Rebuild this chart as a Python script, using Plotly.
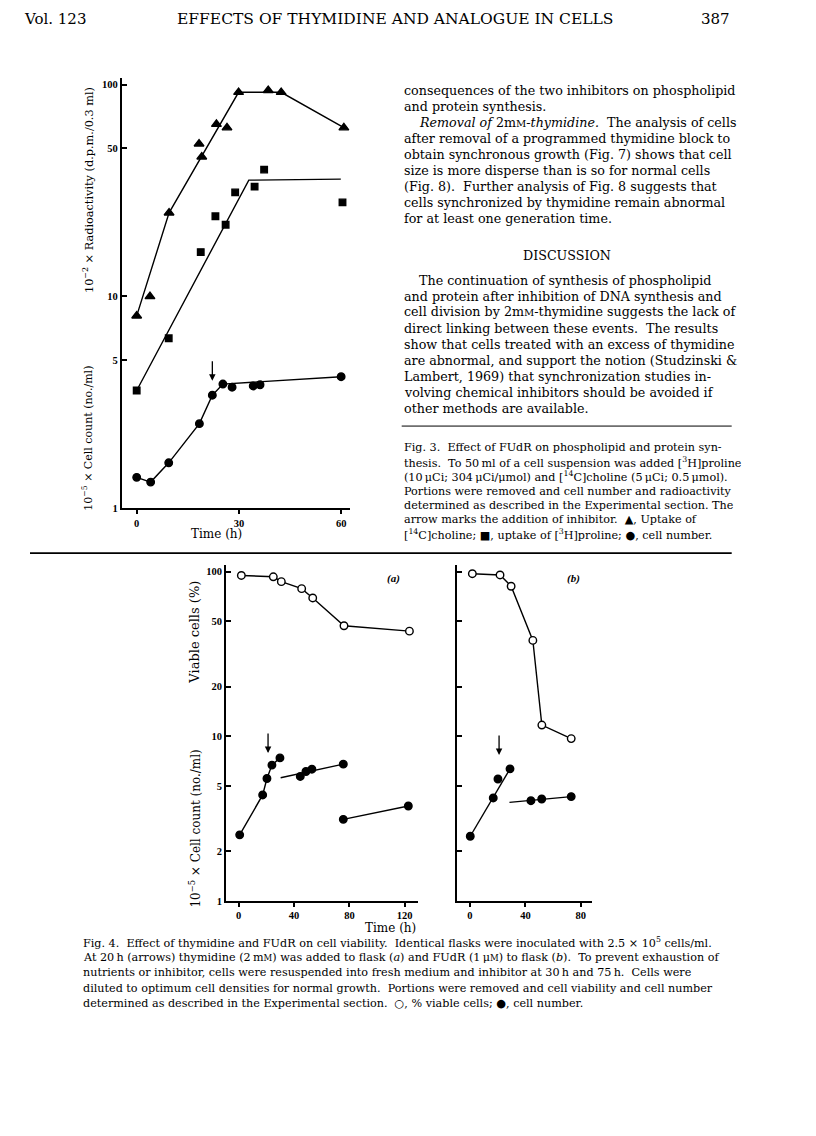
import math
import plotly.graph_objects as go

# page size and the 8px body margin of the html page
PAGE_W, PAGE_H = 816, 1136
OFF = 8
W, H = PAGE_W - OFF, PAGE_H - OFF

# ---------------- Fig. 3 data ----------------
fig3_choline_time = [0, 3.9, 9.5, 18.3, 19.1, 23.4, 26.5, 29.9, 38.6, 42.4, 60.8]
fig3_choline = [8.1, 10.0, 24.8, 52.5, 45.6, 65, 62.6, 92, 94, 92, 62.6]
fig3_choline_fit_time = [0, 9.5, 29.9, 42.4, 60.8]
fig3_choline_fit = [8.1, 24.8, 92, 92, 62.6]

fig3_proline_time = [0, 9.4, 18.8, 23.1, 26.1, 28.9, 34.6, 37.4, 60.4]
fig3_proline = [3.6, 6.35, 16.2, 23.9, 21.8, 31, 33, 39.7, 27.8]
fig3_proline_fit_time = [0, 32.9, 59.9]
fig3_proline_fit = [3.6, 35.4, 35.8]

fig3_cells_time = [0, 4.1, 9.4, 18.4, 22.2, 25.3, 28, 34.2, 36.2, 60]
fig3_cells = [1.40, 1.33, 1.64, 2.51, 3.42, 3.86, 3.73, 3.78, 3.83, 4.18]
fig3_cells_fit_time = [0, 4.1, 9.4, 18.4, 22.2, 25.3, 60]
fig3_cells_fit = [1.40, 1.33, 1.64, 2.51, 3.42, 3.86, 4.18]
fig3_arrow = (22.2, 4.0)
fig3_xticks = [0, 30, 60]
fig3_yticks = [1, 5, 10, 50, 100]

# ---------------- Fig. 4 data ----------------
fig4a_viable_time = [1.9, 25, 30.8, 45.5, 53.5, 76.1, 123.4]
fig4a_viable = [94.8, 93, 86.9, 78.8, 69.2, 46.9, 43.5]
fig4a_cells_time = [0.7, 17.3, 20.4, 24, 29.8, 44.5, 48.6, 52.9, 75.6, 75.6, 122.6]
fig4a_cells = [2.52, 4.4, 5.54, 6.68, 7.39, 5.70, 6.11, 6.31, 6.77, 3.13, 3.77]
fig4a_seg1_time = [0.7, 17.3, 20.4, 24, 29.8]
fig4a_seg1 = [2.52, 4.4, 5.54, 6.68, 7.39]
fig4a_seg2_time = [30.3, 75.6]
fig4a_seg2 = [5.6, 6.77]
fig4a_seg3_time = [75.6, 122.6]
fig4a_seg3 = [3.13, 3.77]
fig4a_arrow = (21.2, 7.9)

fig4b_viable_time = [1.7, 21.7, 29.7, 45.4, 51.9, 73.1]
fig4b_viable = [97.1, 95.4, 81.5, 38.2, 11.7, 9.68]
fig4b_cells_time = [0.2, 16.8, 20.2, 28.9, 44, 51.8, 73.1]
fig4b_cells = [2.47, 4.22, 5.50, 6.34, 4.06, 4.16, 4.30]
fig4b_seg1_time = [0.2, 16.8, 28.9]
fig4b_seg1 = [2.47, 4.22, 6.34]
fig4b_seg2_time = [28.5, 73.1]
fig4b_seg2 = [3.97, 4.30]
fig4b_arrow = (21.0, 7.7)

fig4a_xticks = [0, 40, 80, 120]
fig4b_xticks = [0, 40, 80]
fig4_yticks = [1, 2, 5, 10, 20, 50, 100]


def PX(x):
    return (x - OFF) / W


def PY(y):
    return 1 - (y - OFF) / H


fig = go.Figure()


def add_line(xa, ya, t, v):
    fig.add_trace(go.Scatter(x=t, y=v, xaxis=xa, yaxis=ya, mode="lines",
                             line=dict(color="black", width=1.4),
                             showlegend=False, hoverinfo="skip"))


def add_marks(xa, ya, t, v, symbol, fill, size):
    fig.add_trace(go.Scatter(x=t, y=v, xaxis=xa, yaxis=ya, mode="markers",
                             marker=dict(symbol=symbol, size=size, color=fill,
                                         line=dict(color="black", width=1.4)),
                             showlegend=False, hoverinfo="skip"))


# Fig 3
add_line("x", "y", fig3_choline_fit_time, fig3_choline_fit)
add_line("x", "y", fig3_proline_fit_time, fig3_proline_fit)
add_line("x", "y", fig3_cells_fit_time, fig3_cells_fit)
add_marks("x", "y", fig3_choline_time, fig3_choline, "triangle-up", "black", 8.5)
add_marks("x", "y", fig3_proline_time, fig3_proline, "square", "black", 6.5)
add_marks("x", "y", fig3_cells_time, fig3_cells, "circle", "black", 7.5)

# Fig 4a
add_line("x2", "y2", fig4a_viable_time, fig4a_viable)
add_line("x2", "y2", fig4a_seg1_time, fig4a_seg1)
add_line("x2", "y2", fig4a_seg2_time, fig4a_seg2)
add_line("x2", "y2", fig4a_seg3_time, fig4a_seg3)
add_marks("x2", "y2", fig4a_viable_time, fig4a_viable, "circle", "white", 7.5)
add_marks("x2", "y2", fig4a_cells_time, fig4a_cells, "circle", "black", 7.5)

# Fig 4b
add_line("x3", "y3", fig4b_viable_time, fig4b_viable)
add_line("x3", "y3", fig4b_seg1_time, fig4b_seg1)
add_line("x3", "y3", fig4b_seg2_time, fig4b_seg2)
add_marks("x3", "y3", fig4b_viable_time, fig4b_viable, "circle", "white", 7.5)
add_marks("x3", "y3", fig4b_cells_time, fig4b_cells, "circle", "black", 7.5)

TICKFONT = dict(family="Liberation Serif", size=10.5, color="black", weight="bold")
base = dict(showline=True, linecolor="black", linewidth=1.6, tickwidth=1.5,
            tickcolor="black", showgrid=False, zeroline=False, tickfont=TICKFONT,
            fixedrange=True)
xcommon = dict(ticks="outside", ticklen=4, **base)
ycommon = dict(ticks="inside", ticklen=5, **base)

fig.update_layout(
    width=W, height=H, margin=dict(l=0, r=0, t=0, b=0),
    paper_bgcolor="white", plot_bgcolor="white", showlegend=False,
    xaxis=dict(domain=[PX(121.7), PX(350)], range=[-4.4, 62.6], anchor="y",
               tickvals=fig3_xticks, **xcommon),
    yaxis=dict(domain=[PY(511), PY(78)], type="log", range=[0, 2.033], anchor="x",
               tickvals=fig3_yticks, ticktext=[str(v) for v in fig3_yticks], **ycommon),
    xaxis2=dict(domain=[PX(226), PX(418)], range=[-9.2, 129.6], anchor="y2",
                tickvals=fig4a_xticks, **xcommon),
    yaxis2=dict(domain=[PY(905.7), PY(568)], type="log", range=[0, 2.04], anchor="x2",
                tickvals=fig4_yticks, ticktext=[str(v) for v in fig4_yticks], **ycommon),
    xaxis3=dict(domain=[PX(456.7), PX(591.7)], range=[-9.6, 87.9], anchor="y3",
                tickvals=fig4b_xticks, **xcommon),
    yaxis3=dict(domain=[PY(905.7), PY(568)], type="log", range=[0, 2.04], anchor="x3",
                tickvals=fig4_yticks, showticklabels=False, **ycommon),
)

SERIF = "DejaVu Serif"
anns = []


def text(x, y, s, size=12.7, anchor="left", family=SERIF, angle=0, yanchor="middle"):
    anns.append(dict(x=PX(x), y=PY(y), xref="paper", yref="paper", text=s,
                     showarrow=False, xanchor=anchor, yanchor=yanchor,
                     textangle=angle, font=dict(family=family, size=size, color="black")))


def arrow(xr, yr, t, v):
    anns.append(dict(x=t, y=math.log10(v), xref=xr, yref=yr, text="", showarrow=True,
                     ax=0, ay=-21, arrowhead=2, arrowsize=1, arrowwidth=1.3,
                     arrowcolor="black"))


arrow("x", "y", *fig3_arrow)
arrow("x2", "y2", *fig4a_arrow)
arrow("x3", "y3", *fig4b_arrow)

# Header (top of its box kept at the page's top edge)
text(22, 8.5, "Vol. 123", 15, yanchor="top")
text(395, 8.5, "EFFECTS OF THYMIDINE AND ANALOGUE IN CELLS", 15.5, anchor="center", yanchor="top")
text(732, 8.5, "387", 15, anchor="right", yanchor="top")

# Fig 3 labels
text(88, 191, "10<sup>−2</sup> × Radioactivity (d.p.m./0.3 ml)", 11.3, anchor="center", angle=-90)
text(88, 441, "10<sup>−5</sup> × Cell count (no./ml)", 11, anchor="center", angle=-90)
text(216, 537, "Time (h)", 12, anchor="center")

# Fig 4 labels
text(195, 636, "Viable cells (%)", 13, anchor="center", angle=-90)
text(195, 833, "10<sup>−5</sup> × Cell count (no./ml)", 12, anchor="center", angle=-90)
text(418, 933, "Time (h)", 12, anchor="right")
text(393, 582, "<b><i>(a)</i></b>", 11, anchor="center", family="Liberation Serif")
text(573, 582, "<b><i>(b)</i></b>", 11, anchor="center", family="Liberation Serif")

MM = "m<span style='font-size:10px'>M</span>"
body = [
    (401.7, 90.7, "consequences of the two inhibitors on phospholipid"),
    (401.7, 106.7, "and protein synthesis."),
    (417.3, 123.3, "<i>Removal of</i> 2" + MM + "<i>-thymidine.</i>  The analysis of cells"),
    (401.7, 139.3, "after removal of a programmed thymidine block to"),
    (401.7, 155.3, "obtain synchronous growth (Fig. 7) shows that cell"),
    (401.7, 171.3, "size is more disperse than is so for normal cells"),
    (401.7, 187.3, "(Fig. 8).  Further analysis of Fig. 8 suggests that"),
    (401.7, 203.3, "cells synchronized by thymidine remain abnormal"),
    (401.7, 220.0, "for at least one generation time."),
    (417.3, 281.7, "The continuation of synthesis of phospholipid"),
    (401.7, 297.7, "and protein after inhibition of DNA synthesis and"),
    (401.7, 313.3, "cell division by 2" + MM + "-thymidine suggests the lack of"),
    (401.7, 330.0, "direct linking between these events.  The results"),
    (401.7, 346.0, "show that cells treated with an excess of thymidine"),
    (401.7, 362.0, "are abnormal, and support the notion (Studzinski &amp;"),
    (401.7, 378.3, "Lambert, 1969) that synchronization studies in-"),
    (401.7, 394.3, "volving chemical inhibitors should be avoided if"),
    (401.7, 410.7, "other methods are available."),
]
for x, y, s in body:
    text(x, y, s, 12.7)
text(566.7, 256.7, "DISCUSSION", 12.7, anchor="center")

T = "\u2009"
cap3 = [
    "Fig. 3.  Effect of FUdR on phospholipid and protein syn-",
    "thesis.  To 50" + T + "ml of a cell suspension was added [<sup>3</sup>H]proline",
    "(10" + T + "μCi; 304" + T + "μCi/μmol) and [<sup>14</sup>C]choline (5" + T + "μCi; 0.5" + T + "μmol).",
    "Portions were removed and cell number and radioactivity",
    "determined as described in the Experimental section. The",
    "arrow marks the addition of inhibitor.  ▲, Uptake of",
    "[<sup>14</sup>C]choline; ■, uptake of [<sup>3</sup>H]proline; ●, cell number.",
]
cap3_y = [450, 465, 479.3, 494, 508.3, 522.7, 537.3]
for s, y in zip(cap3, cap3_y):
    text(401.7, y, s, 11.2)

SM = "<span style='font-size:8.5px'>M</span>"
cap4 = [
    "Fig. 4.  Effect of thymidine and FUdR on cell viability.  Identical flasks were inoculated with 2.5 × 10<sup>5</sup> cells/ml.",
    "At 20" + T + "h (arrows) thymidine (2" + T + "m" + SM + ") was added to flask (<i>a</i>) and FUdR (1" + T + "μ" + SM + ") to flask (<i>b</i>).  To prevent exhaustion of",
    "nutrients or inhibitor, cells were resuspended into fresh medium and inhibitor at 30" + T + "h and 75" + T + "h.  Cells were",
    "diluted to optimum cell densities for normal growth.  Portions were removed and cell viability and cell number",
    "determined as described in the Experimental section.  ○, % viable cells; ●, cell number.",
]
cap4_y = [947, 962.5, 978, 993.5, 1009]
for s, y in zip(cap4, cap4_y):
    text(80.7, y, s, 11.2)

fig.update_layout(annotations=anns)

# Rules
fig.update_layout(shapes=[
    dict(type="line", xref="paper", yref="paper", x0=PX(401.7), x1=PX(731.7),
         y0=PY(428.3), y1=PY(428.3), line=dict(color="black", width=1)),
    dict(type="line", xref="paper", yref="paper", x0=PX(30), x1=PX(731.7),
         y0=PY(556), y1=PY(556), line=dict(color="black", width=1.6)),
])

fig.write_html("out.html")
